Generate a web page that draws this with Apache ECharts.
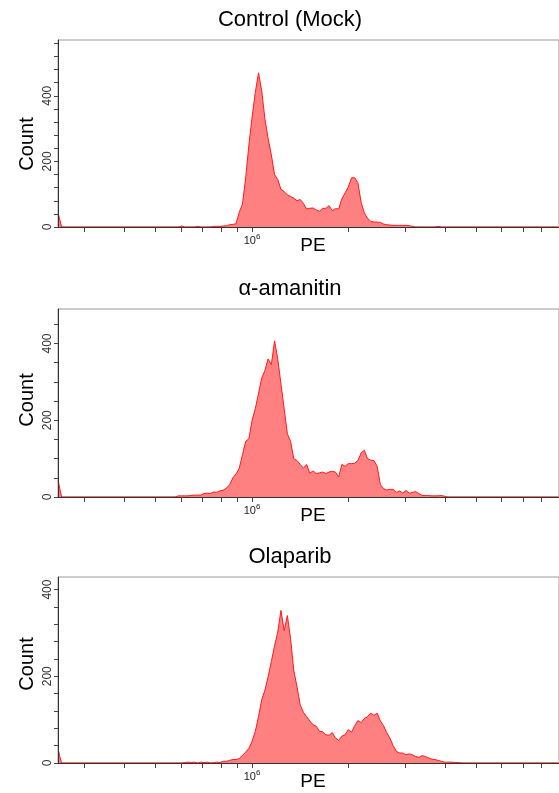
<!DOCTYPE html>
<html><head><meta charset="utf-8">
<script src="https://cdn.jsdelivr.net/npm/echarts@6/dist/echarts.min.js"></script>
<style>html,body{margin:0;padding:0;background:#fff}#c{width:559px;height:793px}</style>
</head><body><div id="c"></div>
<script>
const panelTitles = ['Control (Mock)', 'α-amanitin', 'Olaparib'];
const xAxisName = 'PE';
const yAxisName = 'Count';

// PE positions (log10 of PE intensity)
const peLog10 = [5.3955, 5.3995, 5.4005, 5.4035, 5.406,
  5.75, 5.76, 5.77, 5.78, 5.79, 5.80, 5.81, 5.82, 5.83, 5.84,
  5.85, 5.86, 5.87, 5.88, 5.89, 5.90, 5.91, 5.92, 5.93, 5.94,
  5.95, 5.96, 5.97, 5.98, 5.99, 6.00, 6.01, 6.02, 6.03, 6.04,
  6.05, 6.06, 6.07, 6.08, 6.09, 6.10, 6.11, 6.12, 6.13, 6.14,
  6.15, 6.16, 6.17, 6.18, 6.19, 6.20, 6.21, 6.22, 6.23, 6.24,
  6.25, 6.26, 6.27, 6.28, 6.29, 6.30, 6.31, 6.32, 6.33, 6.34,
  6.35, 6.36, 6.37, 6.38, 6.39, 6.40, 6.41, 6.42, 6.43, 6.44,
  6.45, 6.46, 6.47, 6.48, 6.49, 6.50, 6.51, 6.52, 6.53, 6.54,
  6.55, 6.56, 6.57, 6.58, 6.59, 6.60, 6.61, 6.62,
  6.66, 6.955];

const countsMock = [42, 42, 22, 22, 0,
  0, 0, 0, 3, 0, 0, 0, 0, 2, 0,
  0, 0, 0, 2, 2, 2, 3, 4, 7, 8,
  10, 45, 70, 150, 250, 335, 410, 470, 415, 330,
  270, 220, 160, 145, 115, 108, 98, 93, 88, 80,
  84, 72, 55, 57, 58, 52, 48, 57, 57, 65,
  50, 56, 55, 86, 104, 122, 150, 150, 135, 75,
  43, 27, 17, 15, 15, 14, 9, 7, 6, 5,
  5, 5, 5, 5, 4, 2, 0, 0, 0, 0,
  0, 0, 0, 2, 0, 0, 0, 0,
  0, 0];

const countsAmanitin = [42, 42, 22, 22, 0,
  0, 0, 3, 3, 3, 3, 4, 5, 5, 5,
  9, 10, 9, 13, 12, 16, 18, 23, 32, 50,
  60, 75, 110, 145, 152, 200, 230, 270, 310, 330,
  360, 345, 407, 360, 295, 230, 165, 145, 100, 95,
  85, 75, 85, 62, 68, 61, 63, 65, 61, 65,
  67, 65, 52, 85, 80, 87, 87, 88, 95, 115,
  122, 100, 96, 95, 80, 32, 22, 18, 20, 20,
  12, 16, 10, 17, 10, 12, 14, 9, 4, 4,
  4, 3, 3, 3, 4, 2, 0, 0,
  0, 0];

const countsOlaparib = [32, 32, 15, 15, 0,
  0, 0, 0, 0, 1, 2, 1, 2, 0, 2,
  1, 2, 0, 1, 2, 1, 4, 4, 6, 8,
  8, 10, 18, 25, 34, 50, 73, 107, 146, 168,
  199, 234, 270, 302, 352, 305, 340, 287, 214, 176,
  134, 117, 107, 97, 88, 85, 73, 72, 65, 64,
  70, 58, 52, 62, 65, 77, 71, 86, 98, 93,
  103, 107, 115, 110, 115, 97, 86, 70, 57, 40,
  27, 23, 23, 19, 21, 19, 15, 13, 17, 15,
  12, 9, 8, 6, 4, 2, 2, 2,
  0, 0];

const panelCounts = [countsMock, countsAmanitin, countsOlaparib];

// axis ticks
const xTickValues = [3e5, 4e5, 5e5, 6e5, 7e5, 8e5, 9e5, 1e6, 2e6, 3e6, 4e6, 5e6, 6e6, 7e6, 8e6];
const xLabelValues = [1e6];
const yLabelValues = [0, 200, 400];
const yTicksMock = [0, 40, 80, 120, 160, 200, 240, 280, 320, 360, 400, 440, 480, 520, 560];
const yTicksAmanitin = [0, 50, 100, 150, 200, 250, 300, 350, 400, 450];
const yTicksOlaparib = [0, 40, 80, 120, 160, 200, 240, 280, 320, 360, 400];
const panelYTicks = [yTicksMock, yTicksAmanitin, yTicksOlaparib];
const panelYMax = [570, 490, 429];

const xMin = 5.3948, xMax = 6.957;
const gridTops = [40, 309, 577];
const gridHeights = [187, 188, 186];
const countLabelY = [144, 400, 664];
const titleTops = [9, 278, 546];
const FONT = '"Liberation Sans", Arial, sans-serif';

const grids = [], xAxes = [], yAxes = [], series = [], titles = [], graphics = [];
for (let i = 0; i < 3; i++) {
  grids.push({left: 58, top: gridTops[i], width: 502, height: gridHeights[i],
    show: true, borderColor: '#9a9a9a', borderWidth: 1, backgroundColor: 'transparent'});
  xAxes.push({
    type: 'value', gridIndex: i, min: xMin, max: xMax, z: 5,
    axisLine: {show: true, onZero: false, lineStyle: {color: '#333', width: 1}},
    axisTick: {show: true, length: 5, customValues: xTickValues.map(v => Math.log10(v)),
      lineStyle: {color: '#444', width: 1}},
    axisLabel: {show: true, customValues: xLabelValues.map(v => Math.log10(v)), margin: 6,
      color: '#222', fontFamily: FONT,
      formatter: function (v) { return '{b|10}{s|' + Math.round(v) + '}'; },
      rich: {b: {fontSize: 11, fontFamily: FONT, color: '#222'},
             s: {fontSize: 8, fontFamily: FONT, color: '#222', padding: [0, 0, 7, 0]}}},
    splitLine: {show: false}
  });
  yAxes.push({
    type: 'value', gridIndex: i, min: 0, max: panelYMax[i], z: 5,
    axisLine: {show: true, lineStyle: {color: '#333', width: 1}},
    axisTick: {show: true, length: 4, customValues: panelYTicks[i], lineStyle: {color: '#444', width: 1}},
    axisLabel: {show: true, customValues: yLabelValues, rotate: 90, fontSize: 12, margin: 4,
      color: '#333', fontFamily: FONT},
    splitLine: {show: false}
  });
  series.push({
    type: 'line', xAxisIndex: i, yAxisIndex: i, symbol: 'none', z: 2,
    data: peLog10.map((p, k) => [p, panelCounts[i][k]]),
    lineStyle: {color: '#ff1a1a', width: 1},
    areaStyle: {color: '#ff8080', opacity: 1},
    clip: true, animation: false
  });
  titles.push({text: panelTitles[i], left: 290, top: titleTops[i], textAlign: 'center', padding: 0,
    textStyle: {fontSize: 22, fontWeight: 'normal', color: '#000', fontFamily: FONT}});
  graphics.push({type: 'text', x: 27, y: countLabelY[i], rotation: Math.PI / 2,
    style: {text: yAxisName, font: '20px ' + FONT, fill: '#000', textAlign: 'center', textVerticalAlign: 'middle'}});
  graphics.push({type: 'text', x: 313, y: gridTops[i] + gridHeights[i] + 19,
    style: {text: xAxisName, font: '19px ' + FONT, fill: '#000', textAlign: 'center', textVerticalAlign: 'middle'}});
}

const chart = echarts.init(document.getElementById('c'), null, {renderer: 'canvas'});
chart.setOption({
  animation: false,
  backgroundColor: '#fff',
  title: titles,
  grid: grids,
  xAxis: xAxes,
  yAxis: yAxes,
  series: series,
  graphic: graphics
});
</script>
</body></html>
